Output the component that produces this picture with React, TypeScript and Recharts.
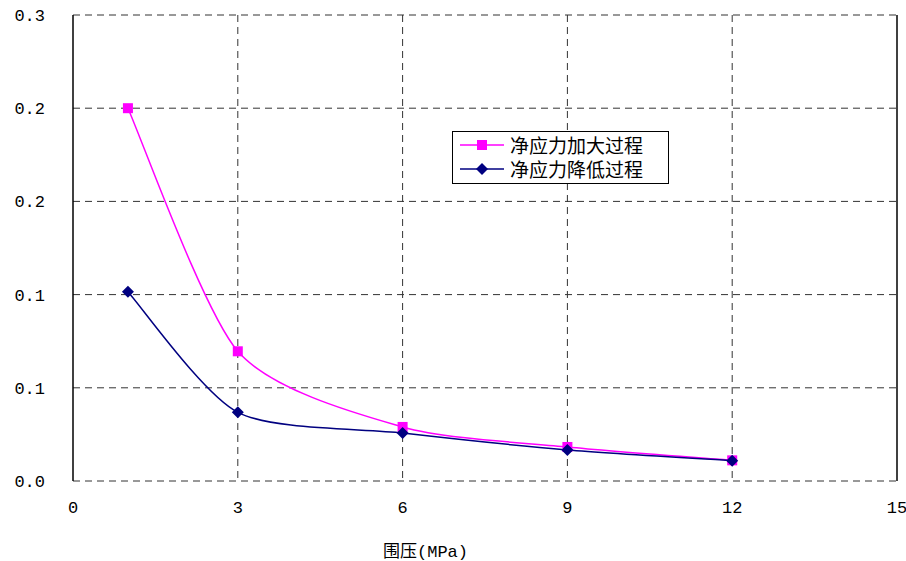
import React from 'react'
import { LineChart, Line, XAxis, YAxis, CartesianGrid, ReferenceLine } from 'recharts'

const pressure = [1, 3, 6, 9, 12]
const increasing = [0.24, 0.0835, 0.0348, 0.0219, 0.0133]
const decreasing = [0.1218, 0.0442, 0.0309, 0.02, 0.0131]
const xTicks = [0, 3, 6, 9, 12, 15]
const yTicks = [0, 0.06, 0.12, 0.18, 0.24, 0.3]

const data = pressure.map((p, i) => ({ p, inc: increasing[i], dec: decreasing[i] }))

const numFont = '"Liberation Mono", "DejaVu Sans Mono", monospace'
const cjkFont = '"Noto Sans CJK SC", sans-serif'

// smoothed line similar to Excel's (Catmull-Rom, a bit tighter)
const smoothCurve = (context: any) => {
  let pts: number[][] = []
  const k = 1 / 8
  return {
    areaStart() {},
    areaEnd() {},
    lineStart() { pts = [] },
    lineEnd() {
      if (!pts.length) return
      context.moveTo(pts[0][0], pts[0][1])
      for (let i = 0; i < pts.length - 1; i++) {
        const p0 = pts[i - 1] || pts[i]
        const p1 = pts[i]
        const p2 = pts[i + 1]
        const p3 = pts[i + 2] || p2
        context.bezierCurveTo(
          p1[0] + (p2[0] - p0[0]) * k, p1[1] + (p2[1] - p0[1]) * k,
          p2[0] - (p3[0] - p1[0]) * k, p2[1] - (p3[1] - p1[1]) * k,
          p2[0], p2[1]
        )
      }
    },
    point(x: number, y: number) { pts.push([+x, +y]) },
  }
}

const SquareDot = (props: any) => {
  const { cx, cy } = props
  if (cx == null || cy == null) return null
  return <rect x={cx - 5} y={cy - 5} width={10} height={10} fill="#FF00FF" />
}

const DiamondDot = (props: any) => {
  const { cx, cy } = props
  if (cx == null || cy == null) return null
  return <polygon points={`${cx},${cy - 6} ${cx + 6},${cy} ${cx},${cy + 6} ${cx - 6},${cy}`} fill="#000080" />
}

const LegendBox = () => (
  <div style={{ position: 'absolute', left: 452, top: 131, width: 208, height: 50, boxSizing: 'content-box', border: '1px solid #000', background: '#fff', padding: '1px 0 0 7px', fontFamily: cjkFont, fontSize: 19, lineHeight: '24px', color: '#000', whiteSpace: 'nowrap' }}>
    <div style={{ display: 'flex', alignItems: 'center', height: 24 }}>
      <svg width={44} height={14} style={{ marginRight: 6 }}>
        <line x1={0} y1={7} x2={44} y2={7} stroke="#FF00FF" strokeWidth={1.5} />
        <rect x={17} y={2} width={10} height={10} fill="#FF00FF" />
      </svg>
      净应力加大过程
    </div>
    <div style={{ display: 'flex', alignItems: 'center', height: 24 }}>
      <svg width={44} height={14} style={{ marginRight: 6 }}>
        <line x1={0} y1={7} x2={44} y2={7} stroke="#000080" strokeWidth={1.5} />
        <polygon points="22,1 28,7 22,13 16,7" fill="#000080" />
      </svg>
      净应力降低过程
    </div>
  </div>
)

export default function App() {
  return (
    <div style={{ position: 'absolute', left: 0, top: 0, width: 906, height: 561, background: '#fff' }}>
      <LineChart width={906} height={561} data={data} margin={{ top: 15, right: 9, bottom: 50, left: 0 }}>
        <CartesianGrid
          stroke="#333"
          strokeDasharray="7 5"
          horizontalValues={yTicks}
          verticalValues={[3, 6, 9, 12]}
        />
        <XAxis
          dataKey="p"
          type="number"
          domain={[0, 15]}
          ticks={xTicks}
          height={30}
          axisLine={false}
          tickLine={false}
          tickSize={0}
          tickMargin={20}
          tick={{ fontSize: 17, fill: '#000', fontFamily: numFont }}
        />
        <YAxis
          type="number"
          domain={[0, 0.3]}
          ticks={yTicks}
          width={73}
          axisLine={{ stroke: '#000', strokeWidth: 1.5 }}
          tickLine={false}
          tickSize={0}
          tickMargin={28}
          tickFormatter={(v: number) => v.toFixed(1)}
          tick={{ fontSize: 17, fill: '#000', fontFamily: numFont }}
        />
        <ReferenceLine x={15} stroke="#000" strokeWidth={1.5} />
        <Line
          type={smoothCurve as any}
          dataKey="inc"
          stroke="#FF00FF"
          strokeWidth={1.5}
          dot={<SquareDot />}
          activeDot={false}
          isAnimationActive={false}
        />
        <Line
          type={smoothCurve as any}
          dataKey="dec"
          stroke="#000080"
          strokeWidth={1.5}
          dot={<DiamondDot />}
          activeDot={false}
          isAnimationActive={false}
        />
      </LineChart>
      <LegendBox />
      <div style={{ position: 'absolute', left: 383, top: 540, fontSize: 17, lineHeight: '20px', color: '#000', whiteSpace: 'nowrap' }}>
        <span style={{ fontFamily: cjkFont }}>围压</span>
        <span style={{ fontFamily: numFont }}>(MPa)</span>
      </div>
    </div>
  )
}
